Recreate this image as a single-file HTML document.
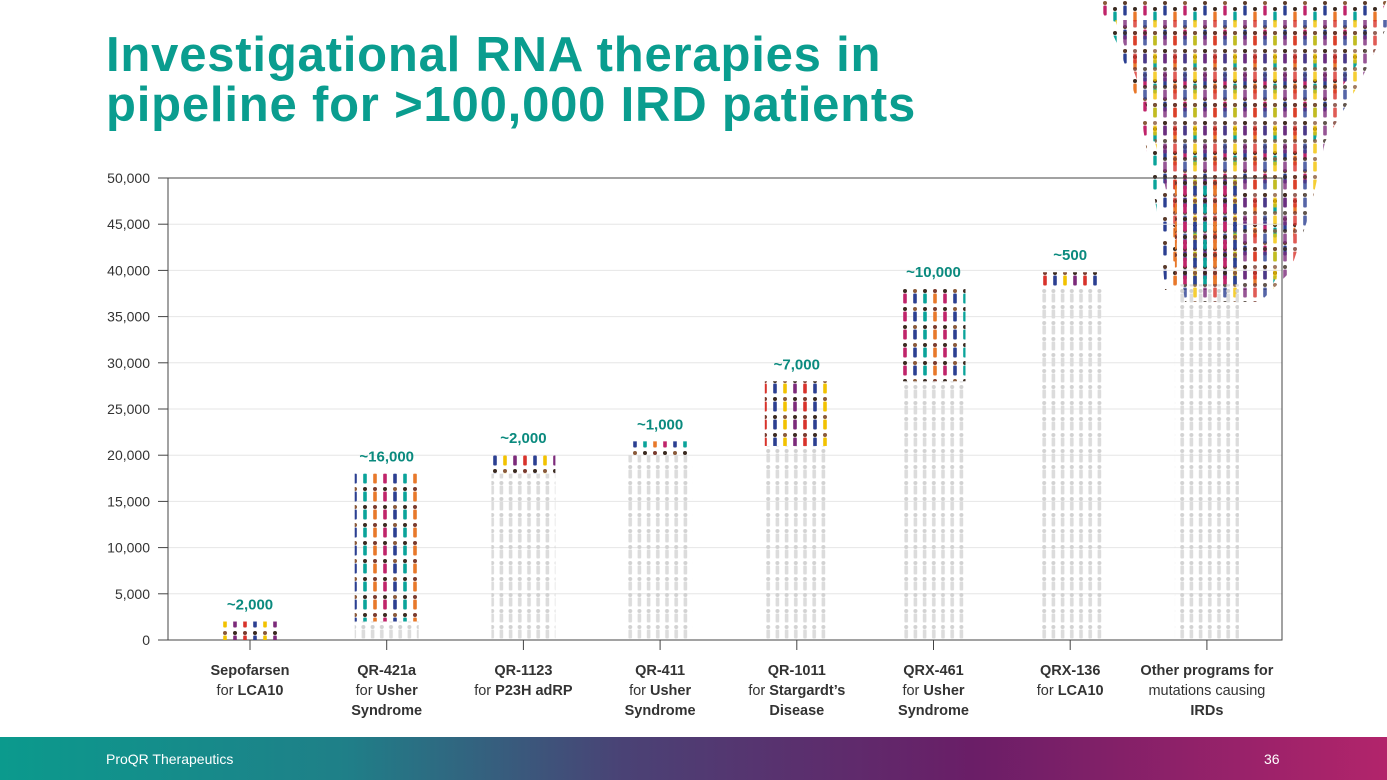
<!DOCTYPE html>
<html><head><meta charset="utf-8">
<style>
body{margin:0;width:1387px;height:780px;overflow:hidden;background:#fff;font-family:"Liberation Sans",sans-serif;position:relative}
.title{position:absolute;left:106px;top:30px;color:#0a9d8f;font-weight:bold;font-size:49px;line-height:50px;letter-spacing:0.8px}
.footer{position:absolute;left:0;top:737px;width:1387px;height:43px;background:linear-gradient(90deg,#0b9a8d 0%,#1f7f88 25%,#4a4275 45%,#6a1e67 70%,#b2246b 100%)}
.footer span{position:absolute;color:#fff;font-size:14px;top:14px}
</style></head><body>
<div class="title">Investigational RNA therapies in<br>pipeline for &gt;100,000 IRD patients</div>
<svg id="chart" width="1387" height="737" style="position:absolute;left:0;top:0">
<defs>
<pattern id="gray" width="9.2" height="16" patternUnits="userSpaceOnUse">
<circle cx="4.6" cy="3" r="2" fill="#d2d2d2"/><rect x="2.8" y="5.5" width="3.6" height="9" rx="1" fill="#dcdcdc"/>
</pattern>
<pattern id="color" width="40" height="18" patternUnits="userSpaceOnUse">
<circle cx="5" cy="3" r="2" fill="#7a3b2e"/><rect x="3.2" y="5.5" width="3.6" height="10" rx="1" fill="#d8322b"/>
<circle cx="15" cy="3" r="2" fill="#3a2a20"/><rect x="13.2" y="5.5" width="3.6" height="10" rx="1" fill="#2b3f91"/>
<circle cx="25" cy="3" r="2" fill="#8a5a3a"/><rect x="23.2" y="5.5" width="3.6" height="10" rx="1" fill="#f2c200"/>
<circle cx="35" cy="3" r="2" fill="#3a2a20"/><rect x="33.2" y="5.5" width="3.6" height="10" rx="1" fill="#7c2a7a"/>
</pattern>
<pattern id="color2" width="40" height="18" patternUnits="userSpaceOnUse">
<circle cx="5" cy="3" r="2" fill="#3a2a20"/><rect x="3.2" y="5.5" width="3.6" height="10" rx="1" fill="#0aa39a"/>
<circle cx="15" cy="3" r="2" fill="#7a3b2e"/><rect x="13.2" y="5.5" width="3.6" height="10" rx="1" fill="#e8782a"/>
<circle cx="25" cy="3" r="2" fill="#3a2a20"/><rect x="23.2" y="5.5" width="3.6" height="10" rx="1" fill="#c0246a"/>
<circle cx="35" cy="3" r="2" fill="#8a5a3a"/><rect x="33.2" y="5.5" width="3.6" height="10" rx="1" fill="#2b3f91"/>
</pattern>
<pattern id="crowdp" width="40" height="24" patternUnits="userSpaceOnUse">
<circle cx="5" cy="3" r="2" fill="#5a3a2a"/><rect x="3.3" y="5.5" width="3.4" height="10" rx="1" fill="#2b3f91"/>
<circle cx="15" cy="9" r="2" fill="#3a2a20"/><rect x="13.3" y="11.5" width="3.4" height="10" rx="1" fill="#e8782a"/>
<circle cx="25" cy="3" r="2" fill="#8a5a3a"/><rect x="23.3" y="5.5" width="3.4" height="10" rx="1" fill="#c0246a"/>
<circle cx="35" cy="9" r="2" fill="#3a2a20"/><rect x="33.3" y="11.5" width="3.4" height="10" rx="1" fill="#0aa39a"/>
</pattern>
</defs>
<g id="crowd">
<polygon points="1097,0 1387,0 1360,60 1320,120 1305,190 1290,250 1270,290 1165,290 1160,230 1150,170 1140,110 1120,50" fill="url(#crowdp)"/>
<polygon points="1105,8 1380,8 1350,70 1315,130 1300,200 1280,260 1250,290 1175,290 1165,220 1150,150 1135,90" fill="url(#color)" opacity="0.8" transform="translate(10,12)"/>
</g>
</svg>
<div class="footer"><span style="left:106px">ProQR Therapeutics</span><span style="left:1264px">36</span></div>
<script>
const categories=[["<b>Sepofarsen</b>","for <b>LCA10</b>"],["<b>QR-421a</b>","for <b>Usher</b>","<b>Syndrome</b>"],["<b>QR-1123</b>","for <b>P23H adRP</b>"],["<b>QR-411</b>","for <b>Usher</b>","<b>Syndrome</b>"],["<b>QR-1011</b>","for <b>Stargardt’s</b>","<b>Disease</b>"],["<b>QRX-461</b>","for <b>Usher</b>","<b>Syndrome</b>"],["<b>QRX-136</b>","for <b>LCA10</b>"],["<b>Other programs for</b>","mutations causing","<b>IRDs</b>"]];
const baseValues=[0,2000,18000,20000,21000,28000,38000,38500];
const addedValues=[2000,16000,2000,1500,7000,10000,1800,11500];
const valueLabels=["~2,000","~16,000","~2,000","~1,000","~7,000","~10,000","~500",""];
const yTicks=[0,5000,10000,15000,20000,25000,30000,35000,40000,45000,50000];
const ns="http://www.w3.org/2000/svg",svg=document.getElementById("chart");
const X0=168,X1=1282,Y0=640,Y1=178,yMax=50000;
const y=v=>Y0-(v/yMax)*(Y0-Y1);
const xc=i=>250+i*136.7;
function mk(t,a,p){const e=document.createElementNS(ns,t);for(const k in a)e.setAttribute(k,a[k]);(p||svg).appendChild(e);return e;}
yTicks.forEach(t=>{
 const g=mk("line",{x1:X0,x2:X1,y1:y(t),y2:y(t),stroke:"#e6e6e6","stroke-width":1});
 
 
 const tk=mk("line",{x1:158,x2:X0,y1:y(t),y2:y(t),stroke:"#444"});
 
 
 const tx=mk("text",{x:150,y:y(t)+5,"text-anchor":"end","font-size":14,fill:"#333","font-family":"Liberation Sans"});
 tx.textContent=t.toLocaleString("en-US");
 
 
});
const fr=mk("rect",{x:X0,y:Y1,width:X1-X0,height:Y0-Y1,fill:"none",stroke:"#444","stroke-width":1});


categories.forEach((c,i)=>{
 const cx=xc(i),w=64;
 if(baseValues[i]>0){
  const b=mk("rect",{x:cx-w/2,y:y(baseValues[i]),width:w,height:y(0)-y(baseValues[i]),fill:"url(#gray)"});
  
  
 }
 const top=baseValues[i]+addedValues[i];
 const a=mk("rect",{x:cx-w/2,y:Math.max(0,y(top)),width:w,height:y(baseValues[i])-Math.max(0,y(top)),fill:i%2?"url(#color2)":"url(#color)"});
 
 
 if(valueLabels[i]){
  const l=mk("text",{x:cx,y:y(top)-12,"text-anchor":"middle","font-size":15,"font-weight":"bold",fill:"#0a8a7e","font-family":"Liberation Sans"});
  l.textContent=valueLabels[i];
  
  
 }
 const tk=mk("line",{x1:cx,x2:cx,y1:Y0,y2:650,stroke:"#444"});
 
 
 const d=document.createElement("div");
 d.style.cssText="position:absolute;left:"+(cx-80)+"px;top:661px;width:160px;text-align:center;font-size:14.5px;line-height:20px;color:#333";
 d.innerHTML=c.join("<br>");
 
 
 document.body.appendChild(d);
});
</script>
</body></html>
